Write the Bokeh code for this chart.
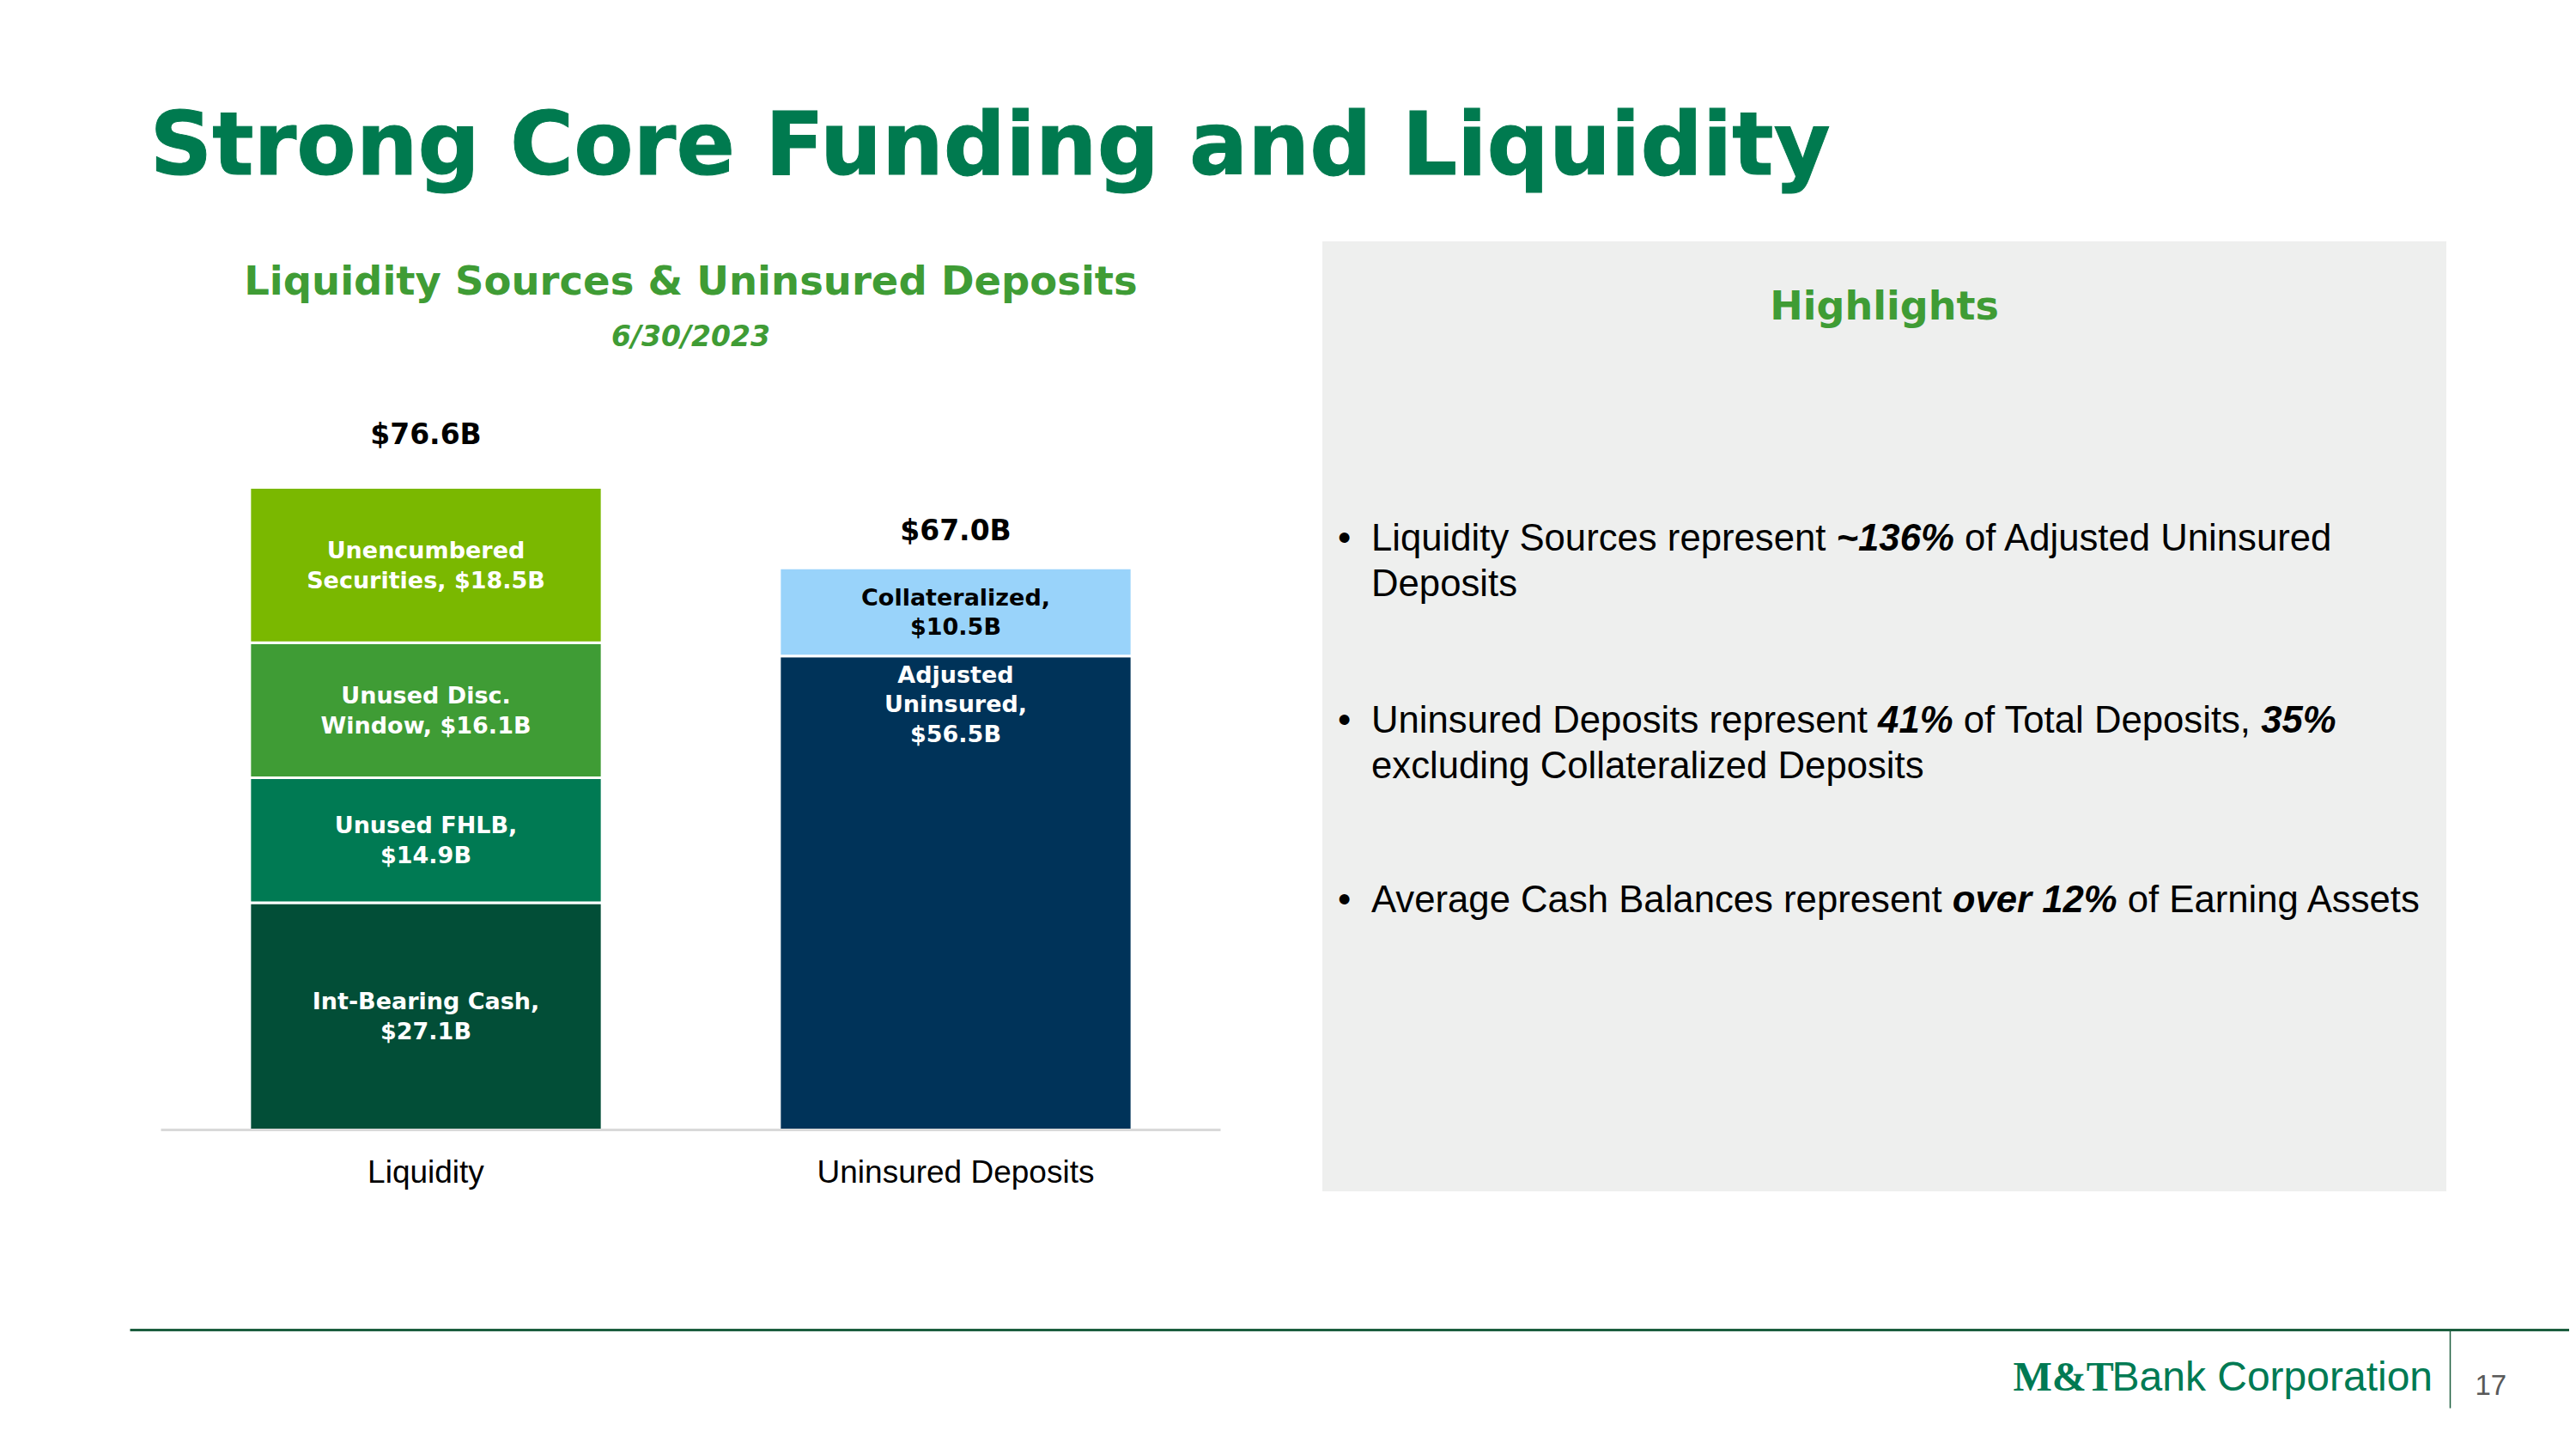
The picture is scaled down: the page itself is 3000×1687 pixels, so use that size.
import numpy as np
from bokeh.plotting import figure
from bokeh.models import ColumnDataSource, FactorRange, Range1d, Label, Div, Spacer
from bokeh.layouts import column, row
from bokeh.core.properties import value
from bokeh.embed import file_html
from bokeh.resources import INLINE

# ---------------- data ----------------
categories = ["Liquidity", "Uninsured Deposits"]
liquidity_segments = ["Int-Bearing Cash", "Unused FHLB", "Unused Disc. Window", "Unencumbered Securities"]
liquidity_values = [27.1, 14.9, 16.1, 18.5]
liquidity_labels = ["Int-Bearing Cash,\n$27.1B", "Unused FHLB,\n$14.9B",
                    "Unused Disc.\nWindow, $16.1B", "Unencumbered\nSecurities, $18.5B"]
uninsured_segments = ["Adjusted Uninsured", "Collateralized"]
uninsured_values = [56.5, 10.5]
uninsured_labels = ["Adjusted\nUninsured,\n$56.5B", "Collateralized,\n$10.5B"]
totals = [76.6, 67.0]
total_labels = ["$76.6B", "$67.0B"]

# ---------------- styles ----------------
liquidity_colors = ["#024E37", "#007A53", "#3F9C35", "#7AB800"]
uninsured_colors = ["#003359", "#99D3FA"]
liquidity_text_colors = ["white", "white", "white", "white"]
uninsured_text_colors = ["white", "black"]
liquidity_label_anchor = ["middle", "middle", "middle", "middle"]
uninsured_label_anchor = ["top", "middle"]
DARK_GREEN = "#007A4F"
MID_GREEN = "#3F9C35"
PANEL_BG = "#EEEFEE"
total_label_offset = [6.4, 4.5]

W = 2992
TOP_H, MID_H, FOOT_H = 281, 1106, 290
CHART_W, PANEL_W = 1540, 1309
SPACER_W = W - CHART_W - PANEL_W

# ---------------- segments ----------------
bars = dict(x=[], bottom=[], top=[], color=[])
mid_lab = dict(x=[], y=[], label=[], tcolor=[])
top_lab = dict(x=[], y=[], label=[], tcolor=[])
for cat, vals, labels, cols, tcols, anchors in [
    (categories[0], liquidity_values, liquidity_labels, liquidity_colors, liquidity_text_colors, liquidity_label_anchor),
    (categories[1], uninsured_values, uninsured_labels, uninsured_colors, uninsured_text_colors, uninsured_label_anchor),
]:
    cum = np.concatenate([[0.0], np.cumsum(vals)])
    for i in range(len(vals)):
        bars["x"].append(cat)
        bars["bottom"].append(cum[i])
        bars["top"].append(cum[i + 1])
        bars["color"].append(cols[i])
        if anchors[i] == "top":
            tgt, yy = top_lab, cum[i + 1] - 0.6
        else:
            tgt, yy = mid_lab, (cum[i] + cum[i + 1]) / 2
        tgt["x"].append(cat)
        tgt["y"].append(yy)
        tgt["label"].append(labels[i])
        tgt["tcolor"].append(tcols[i])

bar_src = ColumnDataSource(bars)
mid_src = ColumnDataSource(mid_lab)
top_src = ColumnDataSource(top_lab)
tot_src = ColumnDataSource(dict(x=categories, y=[t + o for t, o in zip(totals, total_label_offset)],
                                label=total_labels))

# ---------------- top title figure ----------------
top = figure(width=W, height=TOP_H, x_range=Range1d(0, W), y_range=Range1d(TOP_H, 0),
             output_backend="svg", toolbar_location=None, min_border=0,
             x_axis_location=None, y_axis_location=None)
top.grid.visible = False
top.outline_line_color = None
top.add_layout(Label(x=174, y=167, text="Strong Core Funding and Liquidity",
                     text_font="DejaVu Sans", text_font_size="101px", text_font_style="bold",
                     text_color=DARK_GREEN, text_outline_color=DARK_GREEN,
                     text_baseline="middle", text_align="left"))

# ---------------- chart figure ----------------
p = figure(width=CHART_W, height=MID_H,
           x_range=FactorRange(factors=categories, range_padding=0),
           y_range=Range1d(0, 105.9),
           output_backend="svg", toolbar_location=None,
           min_border_left=187, min_border_right=119, min_border_top=0, min_border_bottom=69,
           y_axis_location=None)
p.grid.visible = False
p.outline_line_color = None

p.vbar(x="x", bottom="bottom", top="top", width=0.665, fill_color="color",
       line_color="white", line_width=3, source=bar_src)

p.text(x="x", y="y", text="label", source=mid_src, text_color="tcolor",
       text_font=value("DejaVu Sans"), text_font_style="bold", text_font_size="27px",
       text_align="center", text_baseline="middle", text_line_height=1.12)
p.text(x="x", y="y", text="label", source=top_src, text_color="tcolor",
       text_font=value("DejaVu Sans"), text_font_style="bold", text_font_size="27px",
       text_align="center", text_baseline="top", text_line_height=1.12)
p.text(x="x", y="y", text="label", source=tot_src, text_color="black",
       text_font=value("DejaVu Sans"), text_font_style="bold", text_font_size="33px",
       text_align="center", text_baseline="middle")

p.add_layout(Label(x=1.0, y=101.2, text="Liquidity Sources & Uninsured Deposits",
                   text_font="DejaVu Sans", text_font_size="46.5px", text_font_style="bold",
                   text_color=MID_GREEN, text_align="center", text_baseline="middle"))
p.add_layout(Label(x=1.0, y=94.6, text="6/30/2023",
                   text_font="DejaVu Sans", text_font_size="33px", text_font_style="bold italic",
                   text_color=MID_GREEN, text_align="center", text_baseline="middle"))

p.xaxis.axis_line_color = "#D9D9D9"
p.xaxis.axis_line_width = 3
p.xaxis.major_tick_line_color = None
p.xaxis.minor_tick_line_color = None
p.xaxis.major_label_text_font = "Liberation Sans"
p.xaxis.major_label_text_font_size = "37px"
p.xaxis.major_label_text_color = "#000000"
p.xaxis.major_label_standoff = 22

# ---------------- highlights panel ----------------
bullet_style = ("position:absolute;left:57px;font-size:43.7px;line-height:53px;white-space:nowrap;"
                "font-family:'Liberation Sans',Arial,sans-serif;color:#000;")
dot_style = ("position:absolute;left:18px;font-size:43.7px;line-height:53px;"
             "font-family:'Liberation Sans',Arial,sans-serif;color:#000;")
bullets = [
    (318, "Liquidity Sources represent <b><i>~136%</i></b> of Adjusted Uninsured<br>Deposits"),
    (530, "Uninsured Deposits represent <b><i>41%</i></b> of Total Deposits, <b><i>35%</i></b><br>excluding Collateralized Deposits"),
    (739, "Average Cash Balances represent <b><i>over 12%</i></b> of Earning Assets"),
]
html = (f"<div style=\"position:relative;width:{PANEL_W}px;height:{MID_H}px;background:{PANEL_BG};margin:0;padding:0;\">"
        f"<div style=\"position:absolute;left:0;top:45px;width:{PANEL_W}px;text-align:center;"
        f"font-family:'DejaVu Sans';font-weight:bold;font-size:46px;line-height:60px;color:{MID_GREEN};\">Highlights</div>")
for ty, t in bullets:
    html += f"<div style=\"{dot_style}top:{ty}px;\">&bull;</div>"
    html += f"<div style=\"{bullet_style}top:{ty}px;\">{t}</div>"
html += "</div>"
panel = Div(text=html, width=PANEL_W, height=MID_H, styles={"margin": "0", "padding": "0"})

# ---------------- footer ----------------
foot = figure(width=W, height=FOOT_H, x_range=Range1d(0, W), y_range=Range1d(FOOT_H, 0),
              output_backend="svg", toolbar_location=None, min_border=0,
              x_axis_location=None, y_axis_location=None)
foot.grid.visible = False
foot.outline_line_color = None
foot.segment(x0=[151], y0=[161], x1=[W], y1=[161], line_color="#1C5E3F", line_width=3)
foot.segment(x0=[2853], y0=[161], x1=[2853], y1=[252], line_color="#1C5E3F", line_width=1.5)
foot.add_layout(Label(x=2344, y=215, text="M&T", text_font="Liberation Serif",
                      text_font_size="48px", text_font_style="bold", text_color="#007A53",
                      text_align="left", text_baseline="middle"))
foot.add_layout(Label(x=2459, y=215, text="Bank Corporation", text_font="Liberation Sans",
                      text_font_size="48px", text_color="#007A53", text_align="left",
                      text_baseline="middle"))
foot.add_layout(Label(x=2882, y=225, text="17", text_font="Liberation Sans",
                      text_font_size="33px", text_color="#595959", text_align="left",
                      text_baseline="middle"))

layout = column(top, row(p, panel, Spacer(width=SPACER_W, height=MID_H), spacing=0), foot, spacing=0)
open("out.html", "w").write(file_html(layout, INLINE))
